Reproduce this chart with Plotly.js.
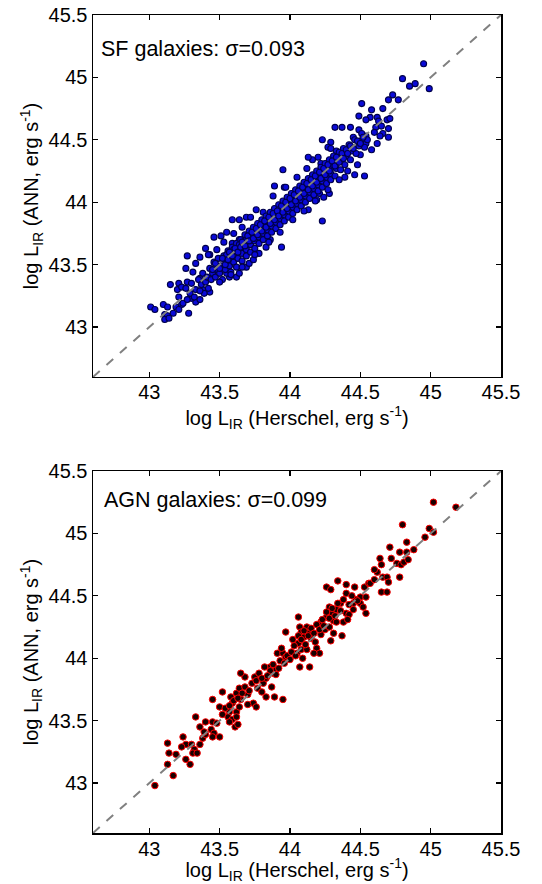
<!DOCTYPE html>
<html>
<head>
<meta charset="utf-8">
<script src="https://cdn.plot.ly/plotly-3.0.1.min.js"></script>
<style>html,body{margin:0;padding:0;background:#fff;}#chart{width:542px;height:884px;}</style>
</head>
<body>
<div id="chart"></div>
<script>
// ---- Data ----
const axisRange = [42.6, 45.5];
const tickValues = [43, 43.5, 44, 44.5, 45, 45.5];
const tickLabels = ["43", "43.5", "44", "44.5", "45", "45.5"];
const diagLine = [42.6, 45.5];

const sfLabel = "SF galaxies: σ=0.093";
const agnLabel = "AGN galaxies: σ=0.099";

// SF galaxies: x = log L_IR (Herschel), y = log L_IR (ANN)
const sfX = [
44.95,44.80,44.85,44.89,44.99,44.73,44.70,44.77,44.51,44.66,44.58,44.57,44.62,44.49,44.54,44.69,44.71,44.63,44.70,44.61,44.65,
44.32,44.37,44.43,44.49,44.66,44.70,44.64,44.60,44.54,44.23,44.54,44.50,44.45,44.50,44.46,44.53,44.39,44.29,44.27,44.33,
44.16,44.22,44.13,43.95,44.23,43.94,43.89,43.96,44.09,44.16,44.21,44.13,44.08,44.19,44.24,44.28,43.64,43.59,43.69,43.81,43.76,
43.46,43.51,43.55,43.40,43.43,43.36,43.27,43.33,43.26,43.31,43.36,43.15,43.21,43.20,43.23,43.27,43.01,43.04,43.10,43.13,43.19,43.23,43.21,
43.28,43.11,43.13,43.17,43.11,43.14,43.33,43.36,43.30,43.38,43.43,43.39,43.59,43.64,43.69,43.57,43.62,43.64,43.55,43.69,43.71,43.74,43.83,43.86,43.78,
43.21,43.24,43.26,43.27,43.29,43.30,43.32,43.33,43.35,43.36,43.37,43.38,43.40,43.41,43.42,43.43,43.44,43.45,43.46,43.47,43.48,43.49,43.50,43.51,43.52,
43.53,43.54,43.55,43.56,43.57,43.58,43.58,43.59,43.60,43.61,43.62,43.62,43.63,43.64,43.65,43.66,43.66,43.67,43.68,43.69,43.69,43.70,43.71,43.72,43.72,
43.73,43.74,43.75,43.75,43.76,43.77,43.78,43.78,43.79,43.80,43.81,43.81,43.82,43.83,43.84,43.84,43.85,43.86,43.87,43.87,43.88,43.89,43.90,43.90,43.91,
43.92,43.93,43.93,43.94,43.95,43.96,43.96,43.97,43.98,43.99,43.99,44.00,44.01,44.02,44.02,44.03,44.04,44.05,44.05,44.06,44.07,44.08,44.08,44.09,44.10,
44.11,44.11,44.12,44.13,44.14,44.14,44.15,44.16,44.17,44.17,44.18,44.19,44.20,44.20,44.21,44.22,44.23,44.23,44.24,44.25,44.26,44.26,44.27,44.28,44.29,
44.29,44.30,44.31,44.32,44.33,44.34,44.35,44.36,44.37,44.38,44.39,44.40,44.42,44.43,44.44,44.46,44.47,44.49,44.51,44.53,44.55,
43.55,43.60,43.64,43.68,43.71,43.74,43.77,43.80,43.83,43.86,43.89,43.92,43.95,43.98,44.01,44.04,44.07,44.10,44.13,44.16,44.19,44.22,44.25,44.28,44.31,44.34,
43.45,43.47,43.50,43.52,43.54,43.56,43.57,43.59,43.61,43.63,43.65,43.66,43.68,43.70,43.71,43.73,43.74,43.76,43.77,43.79,43.80,43.82,43.83,43.85,43.86,
43.88,43.89,43.91,43.92,43.94,43.95,43.97,43.98,44.00,44.01,44.03,44.04,44.06,44.07,44.09,44.10,44.12,44.13,44.15,44.16,44.18,44.19,44.21,44.22,44.24,
44.25,44.27,44.28,44.30,44.32,44.33,44.35,44.37,44.38,44.40,44.41,44.43,44.45,44.48,44.50,44.52,
43.42,43.48,43.53,43.60,43.66,43.72,43.88,43.97,44.05,44.12,44.20,44.29,
43.50,43.58,43.66,43.75,43.85,43.93,44.02,44.10,44.18,44.27,44.35,44.41,44.48,44.58,44.62
];
const sfY = [
45.11,44.99,44.93,44.95,44.91,44.86,44.82,44.82,44.79,44.75,44.74,44.68,44.68,44.69,44.66,44.66,44.67,44.65,44.59,44.60,44.61,
44.60,44.60,44.60,44.58,44.55,44.52,44.53,44.56,44.53,44.50,44.47,44.49,44.52,44.38,44.22,44.21,44.20,44.48,44.44,44.41,
44.34,44.31,44.36,44.26,43.85,43.64,44.13,44.12,44.10,44.10,44.07,43.94,43.98,44.02,44.04,44.07,43.86,43.86,43.88,43.92,43.94,
43.72,43.73,43.76,43.63,43.58,43.56,43.57,43.51,43.47,43.44,43.39,43.34,43.35,43.30,43.32,43.36,43.16,43.14,43.18,43.16,43.16,43.18,43.14,
43.11,43.10,43.09,43.11,43.06,43.07,43.20,43.22,43.23,43.30,43.28,43.27,43.67,43.70,43.67,43.40,43.40,43.43,43.43,43.48,43.51,43.54,43.64,43.70,43.59,
43.24,43.19,43.31,43.22,43.27,43.35,43.24,43.30,43.38,43.29,43.34,43.43,43.36,43.40,43.31,43.47,43.38,43.43,43.52,43.40,43.46,43.55,43.43,43.49,43.38,
43.57,43.46,43.52,43.61,43.49,43.55,43.44,43.64,43.52,43.58,43.67,43.48,43.55,43.61,43.70,43.53,43.59,43.65,43.74,43.57,43.62,43.68,43.77,43.60,43.66,
43.71,43.80,43.63,43.69,43.74,43.83,43.67,43.72,43.77,43.86,43.70,43.75,43.80,43.89,43.73,43.78,43.83,43.92,43.76,43.81,43.86,43.95,43.79,43.84,43.89,
43.98,43.82,43.87,43.92,44.01,43.85,43.90,43.95,44.04,43.88,43.93,43.98,44.07,43.91,43.96,44.01,44.10,43.94,43.99,44.04,44.13,43.97,44.02,44.07,44.16,
44.00,44.05,44.10,44.19,44.03,44.08,44.13,44.22,44.06,44.11,44.16,44.25,44.09,44.14,44.19,44.28,44.12,44.17,44.22,44.31,44.15,44.20,44.25,44.34,44.18,
44.23,44.28,44.37,44.21,44.27,44.32,44.40,44.26,44.33,44.43,44.30,44.37,44.46,44.34,44.41,44.50,44.39,44.45,44.55,44.44,44.50,
43.58,43.62,43.66,43.69,43.72,43.75,43.79,43.81,43.85,43.87,43.90,43.94,43.96,43.99,44.02,44.05,44.09,44.11,44.14,44.18,44.20,44.24,44.26,44.29,44.33,44.36,
43.46,43.51,43.47,43.55,43.50,43.54,43.60,43.57,43.63,43.60,43.64,43.68,43.65,43.73,43.69,43.76,43.71,43.79,43.74,43.82,43.77,43.85,43.80,43.88,43.83,
43.91,43.86,43.93,43.89,43.97,43.92,44.00,43.95,44.03,43.98,44.06,44.01,44.09,44.04,44.12,44.07,44.15,44.10,44.18,44.13,44.21,44.16,44.24,44.19,44.27,
44.22,44.30,44.25,44.33,44.29,44.36,44.32,44.39,44.35,44.42,44.39,44.45,44.43,44.49,44.47,44.52,
43.58,43.62,43.68,43.75,43.80,43.88,44.05,44.12,44.20,44.27,44.36,44.43,
43.36,43.42,43.48,43.58,43.68,43.76,43.86,43.93,44.01,44.10,44.18,44.25,44.30,44.42,44.47
];

// AGN galaxies
const agnX = [
43.04,43.17,43.13,43.29,43.26,43.14,43.19,43.13,43.24,43.26,43.23,43.30,43.32,43.36,43.31,43.34,43.38,43.40,43.33,43.36,43.40,43.45,43.48,
43.39,43.44,43.46,43.50,43.45,43.45,43.50,43.52,43.57,43.62,43.58,43.62,43.64,43.68,43.65,43.59,43.64,43.65,43.56,43.59,43.62,43.57,43.61,43.63,
43.70,43.74,43.76,43.70,43.75,43.77,43.80,43.81,43.83,43.88,43.90,43.86,43.87,43.83,43.89,43.95,43.91,43.95,43.97,43.94,43.97,44.06,
44.07,44.08,44.12,44.14,44.10,44.15,44.02,44.06,44.05,44.08,44.09,44.07,44.14,44.18,44.19,44.21,44.17,44.12,44.22,44.25,44.28,44.31,44.37,44.29,
44.26,44.29,44.34,44.40,44.40,44.46,44.50,44.53,44.56,44.28,44.30,44.33,44.36,44.45,44.47,44.50,44.52,44.54,44.40,44.42,44.38,44.41,44.45,
44.31,44.33,44.26,44.22,44.54,44.57,44.60,44.62,44.64,44.66,44.69,44.70,44.65,44.69,44.60,44.65,44.71,44.72,44.76,44.78,44.79,44.81,44.84,
44.78,44.80,44.83,44.83,44.88,44.96,44.99,45.02,45.02,45.18,
43.86,43.88,43.90,43.92,43.93,43.96,43.98,44.00,44.01,44.03,44.04,44.06,44.08,44.10,44.11,44.13,44.15,44.17,44.19,44.21,44.23,44.24,44.26,44.28,
44.30,44.32,44.34,44.36,44.38,44.42,44.44,44.48,
43.52,43.54,43.57,43.60,43.63,43.66,43.68,43.71,43.73,43.76,43.78,43.80,43.82,43.84
];
const agnY = [
42.98,43.06,43.15,43.15,43.19,43.24,43.23,43.32,43.37,43.31,43.29,43.31,43.27,43.31,43.24,43.24,43.36,43.39,43.53,43.45,43.49,43.49,43.48,
43.41,43.43,43.40,43.37,43.37,43.67,43.61,43.73,43.57,43.57,43.69,43.72,43.76,43.85,43.88,43.64,43.61,43.67,43.53,43.51,43.53,43.49,43.45,43.47,
43.71,43.64,43.61,43.63,43.85,43.76,43.73,43.80,43.84,43.88,43.91,43.93,43.77,43.69,43.69,43.67,44.04,44.04,44.01,44.08,44.21,44.33,
44.25,44.21,44.25,44.21,44.17,44.16,44.15,44.12,44.04,44.07,44.00,43.93,43.93,44.13,44.08,44.04,44.04,44.07,44.19,44.23,44.25,44.20,44.18,44.14,
44.57,44.55,44.62,44.59,44.52,44.57,44.49,44.57,44.60,44.41,44.36,44.39,44.44,44.44,44.47,44.44,44.41,44.36,44.36,44.35,44.29,44.31,44.39,
44.30,44.29,44.33,44.29,44.49,44.60,44.63,44.69,44.80,44.65,44.65,44.61,44.53,44.53,44.71,44.75,44.89,44.80,44.76,44.85,44.75,44.77,44.79,
44.65,45.07,44.93,44.85,44.87,44.97,45.04,45.01,45.25,45.21,
43.90,43.95,43.87,43.92,43.98,43.96,44.02,43.99,44.05,44.10,44.02,44.18,44.15,44.22,44.11,44.18,44.24,44.20,44.27,44.23,44.31,44.26,44.37,44.32,
44.40,44.34,44.44,44.38,44.47,44.43,44.50,44.46,
43.55,43.60,43.62,43.66,43.68,43.72,43.77,43.74,43.80,43.82,43.88,43.84,43.93,43.86
];

const FONT = 'Arial, "Liberation Sans", sans-serif';

function xAxis(anchor) {
  return {
    anchor: anchor, domain: [0, 1], range: axisRange,
    tickmode: 'array', tickvals: tickValues, ticktext: tickLabels,
    ticks: 'inside', ticklen: 5, tickwidth: 1.2, tickcolor: '#000',
    mirror: 'ticks', showline: true, linecolor: '#000', linewidth: 1.5,
    showgrid: false, zeroline: false,
    ticklabelstandoff: -3,
    tickfont: {family: FONT, size: 20, color: '#000'},
    title: {text: 'log L<sub>IR</sub> (Herschel, erg s<sup>-1</sup>)', font: {family: FONT, size: 20, color: '#000'}, standoff: 3}
  };
}
function yAxis(anchor, domain) {
  return {
    anchor: anchor, domain: domain, range: axisRange,
    tickmode: 'array', tickvals: tickValues, ticktext: tickLabels,
    ticks: 'inside', ticklen: 5, tickwidth: 1.2, tickcolor: '#000',
    mirror: 'ticks', showline: true, linecolor: '#000', linewidth: 1.5,
    showgrid: false, zeroline: false,
    tickfont: {family: FONT, size: 20, color: '#000'},
    title: {text: 'log L<sub>IR</sub> (ANN, erg s<sup>-1</sup>)', font: {family: FONT, size: 20, color: '#000'}, standoff: 4}
  };
}

const traces = [
  {x: sfX, y: sfY, xaxis: 'x', yaxis: 'y', type: 'scatter', mode: 'markers',
   marker: {size: 6, color: '#0a0ad8', line: {color: '#00004a', width: 1.1}}, hoverinfo: 'skip'},
  {x: diagLine, y: diagLine, xaxis: 'x', yaxis: 'y', type: 'scatter', mode: 'lines',
   line: {color: '#808080', width: 2, dash: 'dash'}, hoverinfo: 'skip'},
  {x: agnX, y: agnY, xaxis: 'x2', yaxis: 'y2', type: 'scatter', mode: 'markers',
   marker: {size: 6.5, color: '#1a0000', line: {color: '#ff0000', width: 1}}, hoverinfo: 'skip'},
  {x: diagLine, y: diagLine, xaxis: 'x2', yaxis: 'y2', type: 'scatter', mode: 'lines',
   line: {color: '#808080', width: 2, dash: 'dash'}, hoverinfo: 'skip'}
];

const layout = {
  width: 542, height: 884,
  margin: {l: 93, r: 41, t: 15, b: 51},
  paper_bgcolor: '#fff', plot_bgcolor: '#fff',
  showlegend: false,
  xaxis: xAxis('y'),
  yaxis: yAxis('x', [0.5575, 1]),
  xaxis2: xAxis('y2'),
  yaxis2: yAxis('x2', [0, 0.4425]),
  annotations: [
    {text: sfLabel, xref: 'x', yref: 'y', x: 42.645, y: 45.23, xanchor: 'left', yanchor: 'middle',
     showarrow: false, font: {family: FONT, size: 21.5, color: '#000'}},
    {text: agnLabel, xref: 'x2', yref: 'y2', x: 42.667, y: 45.27, xanchor: 'left', yanchor: 'middle',
     showarrow: false, font: {family: FONT, size: 21.5, color: '#000'}}
  ]
};

Plotly.newPlot('chart', traces, layout, {displayModeBar: false, staticPlot: true});
</script>
</body>
</html>
